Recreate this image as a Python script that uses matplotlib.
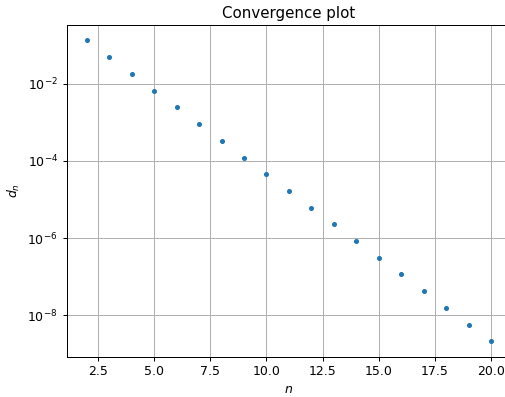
import matplotlib
matplotlib.use("Agg")
import matplotlib.pyplot as plt
from matplotlib.ticker import NullLocator, FixedLocator

n_values = [2, 3, 4, 5, 6, 7, 8, 9, 10, 11, 12, 13, 14, 15, 16, 17, 18, 19, 20]
d_values = [1.35e-1, 4.98e-2, 1.83e-2, 6.74e-3, 2.48e-3, 9.12e-4, 3.35e-4,
            1.23e-4, 4.54e-5, 1.67e-5, 6.14e-6, 2.26e-6, 8.32e-7, 3.06e-7,
            1.13e-7, 4.14e-8, 1.52e-8, 5.60e-9, 2.06e-9]
y_ticks = [1e-2, 1e-4, 1e-6, 1e-8]

DPI = 90
W, H = 506, 397
fig = plt.figure(figsize=(W / DPI, H / DPI), dpi=DPI)
left, right, top, bottom = 66.6, 511.2, 25.4, 356.5
ax = fig.add_axes([left / W, 1 - bottom / H, (right - left) / W, (bottom - top) / H])
ax.semilogy(n_values, d_values, '.', color='#1f77b4')
ax.yaxis.set_major_locator(FixedLocator(y_ticks))
ax.yaxis.set_minor_locator(NullLocator())
ax.grid(True)
ax.set_title("Convergence plot")
ax.set_xlabel("$n$")
ax.set_ylabel("$d_n$")
fig.savefig("out.png", dpi=DPI)
